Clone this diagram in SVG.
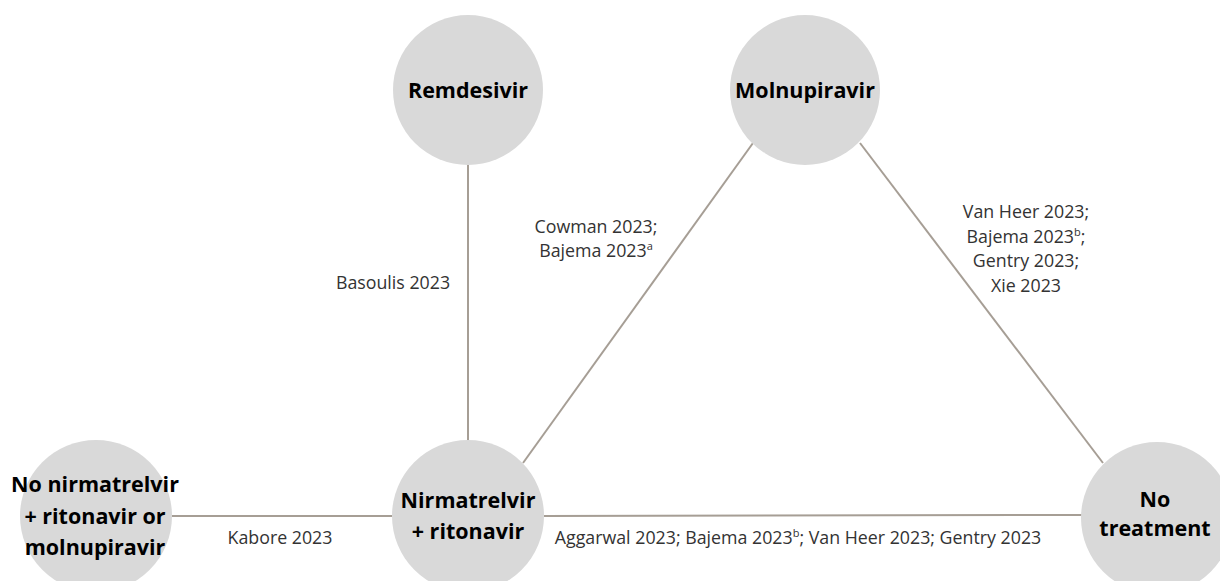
<svg xmlns="http://www.w3.org/2000/svg" width="1220" height="581" viewBox="0 0 1220 581">
  <style>
    .node { fill: #d9d9d9; }
    .edge { stroke: #a69e95; stroke-width: 2; fill: none; }
    .nlabel { font-family: "Open Sans", "Liberation Sans", sans-serif; font-weight: bold; font-size: 21.5px; fill: #000; text-anchor: middle; }
    .elabel { font-family: "Open Sans", "Liberation Sans", sans-serif; font-size: 17.8px; fill: #333; text-anchor: middle; }
    .sup { font-size: 11px; }
  </style>
  <rect width="1220" height="581" fill="#fff"/>

  <!-- connectors -->
  <g id="connectors">
    <line class="edge" x1="468" y1="165" x2="468" y2="440"/>
    <line class="edge" x1="753" y1="143" x2="523" y2="463"/>
    <line class="edge" x1="860" y1="143" x2="1103" y2="463"/>
    <line class="edge" x1="172" y1="516" x2="392" y2="516"/>
    <line class="edge" x1="544" y1="516" x2="1082" y2="515"/>
  </g>

  <!-- connector labels -->
  <g id="edge-labels">
    <text class="elabel" x="393" y="289">Basoulis 2023</text>
    <text class="elabel" x="596" y="233">Cowman 2023;</text>
    <text class="elabel" x="596" y="257">Bajema 2023<tspan class="sup" dy="-7">a</tspan></text>
    <text class="elabel" x="1026" y="218">Van Heer 2023;</text>
    <text class="elabel" x="1026" y="243">Bajema 2023<tspan class="sup" dy="-7">b</tspan><tspan dy="7">;</tspan></text>
    <text class="elabel" x="1026" y="267">Gentry 2023;</text>
    <text class="elabel" x="1026" y="292">Xie 2023</text>
    <text class="elabel" x="280" y="544">Kabore 2023</text>
    <text class="elabel" x="798" y="544">Aggarwal 2023; Bajema 2023<tspan class="sup" dy="-7">b</tspan><tspan dy="7">; Van Heer 2023; Gentry 2023</tspan></text>
  </g>

  <g id="remdesivir">
    <circle class="node" cx="468" cy="90" r="75"/>
    <text class="nlabel" x="468" y="98">Remdesivir</text>
  </g>

  <g id="molnupiravir">
    <circle class="node" cx="805" cy="90" r="75"/>
    <text class="nlabel" x="805" y="98">Molnupiravir</text>
  </g>

  <g id="no-nirmatrelvir">
    <circle class="node" cx="96" cy="516" r="76"/>
    <text class="nlabel" x="95" y="492">No nirmatrelvir</text>
    <text class="nlabel" x="95" y="524">+ ritonavir or</text>
    <text class="nlabel" x="95" y="555">molnupiravir</text>
  </g>

  <g id="nirmatrelvir">
    <circle class="node" cx="468" cy="516" r="76"/>
    <text class="nlabel" x="468" y="508">Nirmatrelvir</text>
    <text class="nlabel" x="468" y="539">+ ritonavir</text>
  </g>

  <g id="no-treatment">
    <circle class="node" cx="1157" cy="518" r="76"/>
    <text class="nlabel" x="1155" y="507">No</text>
    <text class="nlabel" x="1155" y="536">treatment</text>
  </g>
</svg>
